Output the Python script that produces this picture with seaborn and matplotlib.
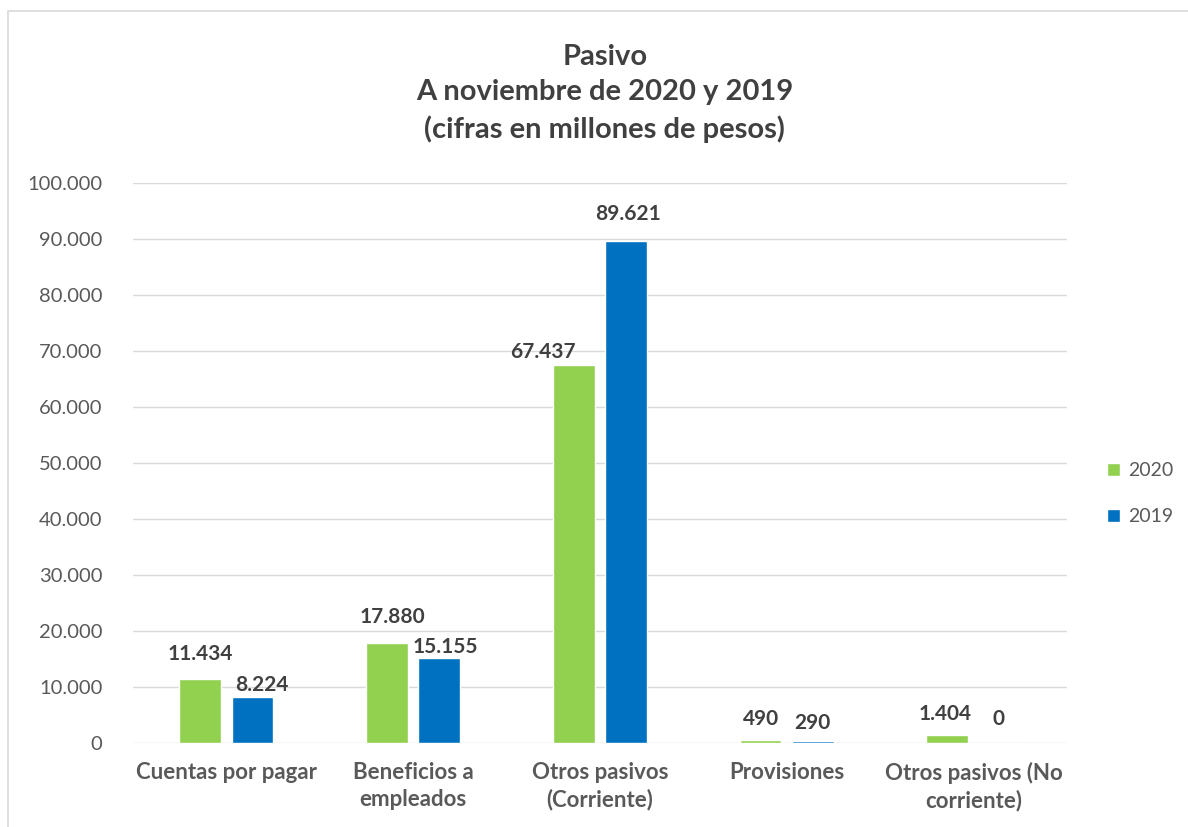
import numpy as np
import pandas as pd

import matplotlib
matplotlib.use('Agg')

import matplotlib.pyplot as plt
from matplotlib.patches import Rectangle
from matplotlib.ticker import FuncFormatter

import seaborn as sns

categories = ['Cuentas por pagar', 'Beneficios a\nempleados', 'Otros pasivos\n(Corriente)',
              'Provisiones', 'Otros pasivos (No\ncorriente)']
years = ['2020', '2019']
values_2020 = [11434, 17880, 67437, 490, 1404]
values_2019 = [8224, 15155, 89621, 290, 0]

# label nudges in pixels (dx, dy above bar top)
offsets_2020 = [(0, 25), (5, 26), (-31, 13), (0, 21), (-2, 21)]
offsets_2019 = [(9, 12), (6, 11), (2, 27), (0, 18), (-1, 24)]

df = pd.DataFrame({'Categoria': categories, '2020': values_2020, '2019': values_2019})
df = df.melt(id_vars='Categoria', var_name='Año', value_name='Valor')

sns.set_style('white')
plt.rcParams['font.family'] = ['Lato', 'DejaVu Sans']

fig = plt.figure(figsize=(11.88, 8.27), dpi=100)
ax = fig.add_axes([0.112, 0.1016, 0.786, 0.6771])

sns.barplot(data=df, x='Categoria', y='Valor', hue='Año', hue_order=years,
            palette={'2020': '#92D050', '2019': '#0070C0'},
            width=0.56, gap=0.2, ax=ax, errorbar=None, saturation=1)

ax.set_ylim(0, 100000)
ax.set_yticks(np.arange(0, 100001, 10000))
ax.yaxis.set_major_formatter(FuncFormatter(lambda v, p: f'{int(v):,}'.replace(',', '.')))
ax.grid(axis='y', color='#d9d9d9', linewidth=1)
ax.set_axisbelow(True)
for s in ax.spines.values():
    s.set_visible(False)
ax.tick_params(axis='both', length=0)
ax.tick_params(axis='y', labelsize=14.5, labelcolor='#595959', pad=22)
ax.tick_params(axis='x', labelsize=16, labelcolor='#595959', pad=14)
for t in ax.get_xticklabels():
    t.set_fontweight('bold')
    t.set_linespacing(1.3)
ax.set_xlabel('')
ax.set_ylabel('')

for cont, offs in zip(ax.containers, [offsets_2020, offsets_2019]):
    for bar, (dx, dy) in zip(cont, offs):
        h = bar.get_height()
        ax.annotate(f'{int(h):,}'.replace(',', '.'),
                    (bar.get_x() + bar.get_width() / 2, h),
                    xytext=(dx * 0.72, dy * 0.72), textcoords='offset points',
                    ha='center', va='center', fontsize=15, fontweight='bold',
                    color='#404040')

handles, labels = ax.get_legend_handles_labels()
ax.legend(handles, labels, loc='center left', bbox_to_anchor=(1.024, 0.445),
          frameon=False, fontsize=14, labelcolor='#595959',
          handlelength=0.7, handleheight=0.7, handletextpad=0.4, labelspacing=1.5)

fig.text(0.509, 0.887, 'Pasivo\nA noviembre de 2020 y 2019\n(cifras en millones de pesos)',
         ha='center', va='center', fontsize=21, fontweight='bold', color='#404040',
         linespacing=1.43)

fig.patches.append(Rectangle((8 / 1188, -0.01), 1.02, (827 - 11) / 827 + 0.01,
                             transform=fig.transFigure, fill=False,
                             edgecolor='#d9d9d9', linewidth=1.2))

plt.savefig('out.png', dpi=100)
